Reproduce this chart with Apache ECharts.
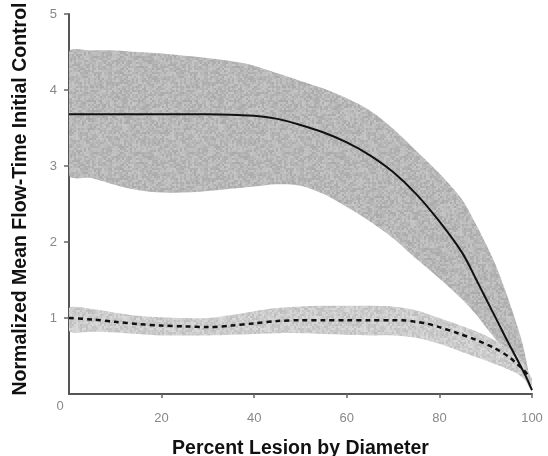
<!DOCTYPE html>
<html>
<head>
<meta charset="utf-8">
<script src="https://cdn.jsdelivr.net/npm/echarts@6/dist/echarts.min.js"></script>
<style>
  html, body { margin: 0; padding: 0; background: #fff; }
  #chart { width: 548px; height: 456px; }
</style>
</head>
<body>
<div id="chart"></div>
<script>
// solid curve: mean flow-time with lesion
var solidX = [0, 10, 20, 30, 40, 45, 50, 55, 60, 65, 70, 75, 80, 85, 88, 90, 93, 95, 97, 99, 100];
var solidY = [3.68, 3.68, 3.68, 3.68, 3.66, 3.62, 3.54, 3.44, 3.31, 3.14, 2.92, 2.63, 2.27, 1.85, 1.50, 1.26, 0.90, 0.66, 0.43, 0.19, 0.05];

// grey band around the solid curve
var upperBandX = [0, 5, 10, 15, 20, 25, 30, 35, 40, 45, 50, 55, 60, 65, 70, 75, 80, 85, 88, 90, 92, 94, 96, 98, 100];
var upperBandHi = [4.50, 4.52, 4.52, 4.50, 4.48, 4.45, 4.42, 4.38, 4.32, 4.22, 4.12, 4.02, 3.89, 3.73, 3.49, 3.20, 2.90, 2.55, 2.22, 1.98, 1.72, 1.40, 1.05, 0.65, 0.05];
var upperBandLo = [2.88, 2.84, 2.75, 2.68, 2.65, 2.65, 2.67, 2.70, 2.73, 2.76, 2.74, 2.63, 2.46, 2.27, 2.05, 1.78, 1.52, 1.24, 1.04, 0.88, 0.73, 0.58, 0.42, 0.24, 0.03];

// dashed curve
var dashX = [0, 5, 10, 15, 20, 25, 30, 35, 40, 45, 50, 55, 60, 65, 70, 72, 75, 77, 80, 84, 88, 92, 95, 96.5, 98, 99.5];
var dashY = [1.00, 0.98, 0.95, 0.92, 0.90, 0.89, 0.88, 0.90, 0.93, 0.96, 0.97, 0.97, 0.97, 0.97, 0.97, 0.97, 0.95, 0.93, 0.88, 0.80, 0.71, 0.60, 0.49, 0.41, 0.33, 0.22];

// band around the dashed curve
var lowerBandX = [0, 5, 10, 15, 20, 25, 30, 35, 40, 45, 50, 55, 60, 65, 70, 75, 80, 85, 90, 95, 97, 100];
var lowerBandHi = [1.13, 1.12, 1.07, 1.03, 1.01, 1.00, 1.00, 1.04, 1.09, 1.13, 1.15, 1.16, 1.16, 1.16, 1.15, 1.10, 1.00, 0.89, 0.77, 0.60, 0.51, 0.20];
var lowerBandLo = [0.83, 0.82, 0.81, 0.79, 0.77, 0.77, 0.77, 0.78, 0.79, 0.80, 0.80, 0.79, 0.78, 0.77, 0.77, 0.74, 0.66, 0.55, 0.44, 0.32, 0.26, 0.12];

var xTicks = [0, 20, 40, 60, 80, 100];
var yTicks = [0, 1, 2, 3, 4, 5];

var FONT = 'Liberation Sans, Arial, sans-serif';

function zip(xs, ys) {
  return xs.map(function (x, i) { return [x, ys[i]]; });
}

// mottled grey fill like the printed stipple (2px blocks)
function grain(base, spread) {
  var n = 96, c = document.createElement('canvas');
  c.width = n; c.height = n;
  var ctx = c.getContext('2d');
  var s = 11;
  for (var y = 0; y < n; y += 2) {
    for (var x = 0; x < n; x += 2) {
      s = (s * 1103515245 + 12345) & 0x7fffffff;
      var v = Math.round(base + ((s >> 10) % spread) - spread / 2);
      ctx.fillStyle = 'rgb(' + v + ',' + v + ',' + v + ')';
      ctx.fillRect(x, y, 2, 2);
    }
  }
  return { image: c, repeat: 'repeat' };
}

function band(xs, hi, lo, fill) {
  return {
    type: 'custom',
    silent: true,
    z: 1,
    data: [[0, 0]],
    renderItem: function (params, api) {
      var pts = [];
      for (var i = 0; i < xs.length; i++) pts.push(api.coord([xs[i], hi[i]]));
      for (var j = xs.length - 1; j >= 0; j--) pts.push(api.coord([xs[j], lo[j]]));
      var cs = params.coordSys;
      return {
        type: 'polygon',
        shape: {
          points: pts, smooth: 0.3,
          smoothConstraint: [[cs.x, cs.y], [cs.x + cs.width, cs.y + cs.height]]
        },
        style: { fill: fill }
      };
    }
  };
}

var chart = echarts.init(document.getElementById('chart'));
chart.setOption({
  animation: false,
  grid: { left: 69, right: 16, top: 14, bottom: 62, outerBoundsMode: 'none' },
  xAxis: {
    type: 'value', min: xTicks[0], max: xTicks[xTicks.length - 1], interval: 20,
    name: 'Percent Lesion by Diameter', nameLocation: 'middle', nameGap: 45,
    nameTextStyle: { fontFamily: FONT, fontWeight: 'bold', fontSize: 19.5, color: '#111' },
    axisLine: { lineStyle: { color: '#555', width: 2 } },
    axisTick: { length: 4, lineStyle: { color: '#666', width: 1.5 } },
    axisLabel: { color: '#888', fontSize: 13, fontFamily: FONT, margin: 18, showMinLabel: false },
    splitLine: { show: false }
  },
  yAxis: {
    type: 'value', min: yTicks[0], max: yTicks[yTicks.length - 1], interval: 1,
    name: 'Normalized Mean Flow-Time Initial Control', nameLocation: 'middle', nameGap: 38, nameRotate: 90,
    nameTextStyle: { fontFamily: FONT, fontWeight: 'bold', fontSize: 19.5, color: '#111', padding: [0, 0, 0, 10] },
    axisLine: { show: true, lineStyle: { color: '#555', width: 2 } },
    axisTick: { show: true, length: 5, lineStyle: { color: '#666', width: 1.5 } },
    axisLabel: { color: '#888', fontSize: 13, fontFamily: FONT, margin: 12, showMinLabel: false },
    splitLine: { show: false }
  },
  series: [
    band(upperBandX, upperBandHi, upperBandLo, grain(184, 30)),
    band(lowerBandX, lowerBandHi, lowerBandLo, grain(204, 30)),
    {
      type: 'line', data: zip(solidX, solidY), showSymbol: false, smooth: 0.3, z: 3,
      lineStyle: { color: '#111', width: 2 }
    },
    {
      type: 'line', data: zip(dashX, dashY), showSymbol: false, smooth: 0.3, z: 3,
      lineStyle: { color: '#111', width: 2.5, type: [5, 4] }
    }
  ]
});

// shared origin label sits below-left of the corner
var origin = chart.convertToPixel({ gridIndex: 0 }, [xTicks[0], yTicks[0]]);
chart.setOption({
  graphic: [{
    type: 'text', x: origin[0] - 9, y: origin[1] + 12,
    style: { text: String(yTicks[0]), fill: '#888', font: '13px ' + FONT, align: 'center', verticalAlign: 'middle' }
  }]
});
</script>
</body>
</html>
